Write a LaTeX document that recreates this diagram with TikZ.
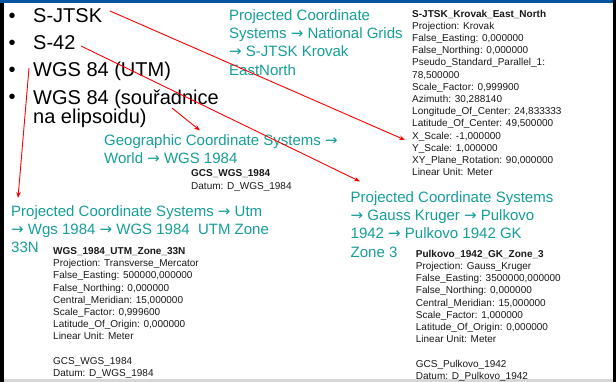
\documentclass[tikz,border=0pt]{standalone}
\usepackage{fontspec}
\setmainfont{Liberation Sans}
\newfontfamily\arrowfont{DejaVu Sans}
\newcommand\rarr{{\arrowfont →}}
\usetikzlibrary{arrows.meta}
\definecolor{tealtext}{RGB}{22,158,154}
\definecolor{barblue}{RGB}{0,84,160}
\definecolor{bottomgray}{RGB}{215,215,215}
\begin{document}
\begin{tikzpicture}[x=1pt,y=-1pt,
  bigtxt/.style={font=\fontsize{20}{17.5}\selectfont, anchor=base west, inner sep=0pt},
  bigblock/.style={font=\fontsize{20}{17.5}\selectfont, align=left, anchor=north west, inner sep=0pt},
  tealtxt/.style={font=\fontsize{15}{18.3}\selectfont, text=tealtext, align=left, anchor=north west, inner sep=0pt},
  smalltxt/.style={font=\fontsize{10}{12.2}\selectfont, text=black!90, align=left, anchor=north west, inner sep=0pt},
  redarrow/.style={draw=red, line width=0.9pt, -{Stealth[length=6pt,width=4.5pt]}}]
\useasboundingbox (0,0) rectangle (616,382);
% frame
\fill[white] (0,0) rectangle (616,382);
\fill[black] (0,0) rectangle (4,382);
\fill[black] (613,0) rectangle (616,382);
\fill[barblue] (0,0) rectangle (613,3);
\fill[bottomgray] (4,379) rectangle (613,382);

% bullets
\node[bigtxt] (b1) at (8.5,23) {•};
\node[bigtxt] (t1) at (33,23) {S-JTSK};
\node[bigtxt] (b2) at (8.5,50) {•};
\node[bigtxt] (t2) at (33,50) {S-42};
\node[bigtxt] (b3) at (8.5,77) {•};
\node[bigtxt] (t3) at (33,77) {WGS 84 (UTM)};
\node[bigtxt] (b4) at (8.5,104) {•};
\node[bigblock] (t4) at (33,88) {\rule{0pt}{16pt}WGS 84 (souřadnice\\na elipsoidu)};

% teal paths
\node[tealtxt] (pNat) at (229,8) {\rule{0pt}{12pt}Projected Coordinate\\Systems \rarr{} National Grids\\\rarr{} S-JTSK Krovak\\EastNorth};
\node[tealtxt] (pGeo) at (104,133) {\rule{0pt}{12pt}Geographic Coordinate Systems \rarr\\World \rarr{} WGS 1984};
\node[tealtxt] (pUtm) at (11,204) {\rule{0pt}{12pt}Projected Coordinate Systems \rarr{} Utm\\\rarr{} Wgs 1984 \rarr{} WGS 1984\ \ UTM Zone\\33N};
\node[tealtxt] (pGk) at (350.5,190) {\rule{0pt}{12pt}Projected Coordinate Systems\\\rarr{} Gauss Kruger \rarr{} Pulkovo\\1942 \rarr{} Pulkovo 1942 GK\\Zone 3};

% parameter blocks
\node[smalltxt] (kro) at (412,8.9) {\rule{0pt}{8pt}\textbf{S-JTSK\_Krovak\_East\_North}\\
Projection: Krovak\\
False\_Easting: 0,000000\\
False\_Northing: 0,000000\\
Pseudo\_Standard\_Parallel\_1:\\
78,500000\\
Scale\_Factor: 0,999900\\
Azimuth: 30,288140\\
Longitude\_Of\_Center: 24,833333\\
Latitude\_Of\_Center: 49,500000\\
X\_Scale: -1,000000\\
Y\_Scale: 1,000000\\
XY\_Plane\_Rotation: 90,000000\\
Linear Unit: Meter};

\node[smalltxt] (gcs) at (191,168.7) {\rule{0pt}{8pt}\textbf{GCS\_WGS\_1984}\\
Datum: D\_WGS\_1984};

\node[smalltxt] (utm) at (53,246.3) {\rule{0pt}{8pt}\textbf{WGS\_1984\_UTM\_Zone\_33N}\\
Projection: Transverse\_Mercator\\
False\_Easting: 500000,000000\\
False\_Northing: 0,000000\\
Central\_Meridian: 15,000000\\
Scale\_Factor: 0,999600\\
Latitude\_Of\_Origin: 0,000000\\
Linear Unit: Meter\\[12.2pt]
GCS\_WGS\_1984\\
Datum: D\_WGS\_1984};

\node[smalltxt] (gk) at (415.7,249) {\rule{0pt}{8pt}\textbf{Pulkovo\_1942\_GK\_Zone\_3}\\
Projection: Gauss\_Kruger\\
False\_Easting: 3500000,000000\\
False\_Northing: 0,000000\\
Central\_Meridian: 15,000000\\
Scale\_Factor: 1,000000\\
Latitude\_Of\_Origin: 0,000000\\
Linear Unit: Meter\\[12.2pt]
GCS\_Pulkovo\_1942\\
Datum: D\_Pulkovo\_1942};

% arrow end points
\coordinate (a1s) at (110,11);
\coordinate (a1e) at (405,140);
\coordinate (a2s) at (81,46);
\coordinate (a2e) at (360,181.5);
\coordinate (a3s) at (29,68);
\coordinate (a3e) at (18,198);
\coordinate (a4s) at (172,108);
\coordinate (a4e) at (200,130.5);

\draw[redarrow] (a1s) -- (a1e);
\draw[redarrow] (a2s) -- (a2e);
\draw[redarrow] (a3s) -- (a3e);
\draw[redarrow] (a4s) -- (a4e);
\end{tikzpicture}
\end{document}
